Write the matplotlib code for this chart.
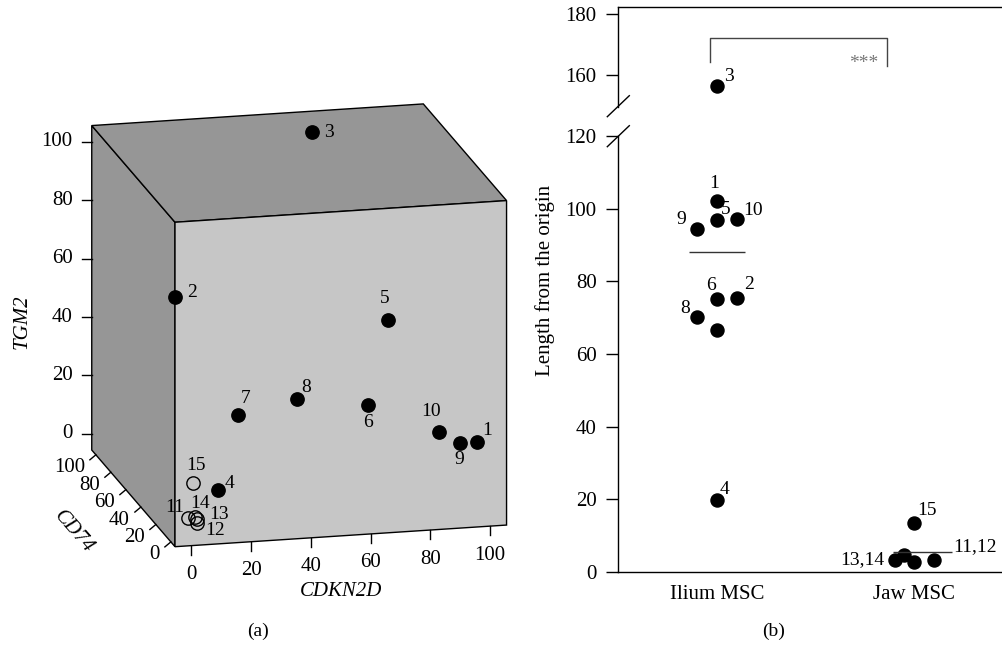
import numpy as np
import matplotlib
matplotlib.use('Agg')
import matplotlib.pyplot as plt
from matplotlib.patches import Polygon

plt.rcParams['font.family'] = ['Liberation Serif', 'DejaVu Serif']

# ---- panel (a): three genes for the 15 MSC samples ----
sample_ids = list(range(1, 16))
cdkn2d = [100, 0, 67, 13.5, 73.5, 65.5, 31, 47.7, 92, 91.4, 0.3, 3.2, 3.1, 3.3, 2.5]
cd74 = [12, 16.4, 100, 12.5, 25.5, 20.5, 55.7, 44, 3, 28, 0, 0, 0, 3, 2]
tgm2 = [17.9, 73, 100, 7.3, 57.6, 30.5, 18.9, 26.7, 21, 17.4, 2.4, 0.3, 1.8, 1.6, 13.5]
is_jaw = [False] * 10 + [True] * 5
axis_ticks = [0, 20, 40, 60, 80, 100]

# ---- panel (b): length from the origin ----
groups = ['Ilium MSC', 'Jaw MSC']
ilium_ids = [1, 2, 3, 4, 5, 6, 7, 8, 9, 10]
ilium_len = [102.1, 75.3, 156.5, 19.8, 96.9, 75.1, 66.6, 70.1, 94.5, 97.2]
ilium_jitter = [0, 0.1, 0, 0, 0, 0, 0, -0.1, -0.1, 0.1]
jaw_ids = [11, 12, 13, 14, 15]
jaw_len = [2.7, 3.3, 3.3, 4.7, 13.4]
jaw_jitter = [0, 0.1, -0.1, -0.05, 0]
group_line = [88.0, 5.6]

W, H = 1003, 646
fig = plt.figure(figsize=(W / 100, H / 100), dpi=100)

# canvas in pixel units for the pseudo-3D panel
ax = fig.add_axes([0, 0, 1, 1])
ax.set_xlim(0, W)
ax.set_ylim(H, 0)
ax.axis('off')
ax.set_zorder(5)
ax.patch.set_visible(False)

lo, hi = -5.5, 105.5
P0 = np.array([175.0, 546.7])
ex = np.array([2.987, -0.195])
ey = np.array([-0.75, -0.871])
ez = np.array([0.0, -2.923])


def proj(x, y, z):
    x, y, z = (np.asarray(v, float) - lo for v in (x, y, z))
    return (P0[0] + x * ex[0] + y * ey[0] + z * ez[0],
            P0[1] + x * ex[1] + y * ey[1] + z * ez[1])


def face(corners, color):
    pts = [proj(*c) for c in corners]
    ax.add_patch(Polygon(pts, closed=True, facecolor=color, edgecolor='black', lw=1.0))


face([(lo, lo, lo), (lo, hi, lo), (lo, hi, hi), (lo, lo, hi)], '#969696')
face([(lo, lo, hi), (hi, lo, hi), (hi, hi, hi), (lo, hi, hi)], '#969696')
face([(lo, lo, lo), (hi, lo, lo), (hi, lo, hi), (lo, lo, hi)], '#c6c6c6')

fs = 15
lfs = 14
for v in axis_ticks:
    sx, sy = proj(v, lo, lo)
    ax.plot([sx, sx], [sy, sy + 9], color='black', lw=1)
    ax.text(sx, sy + 29, str(v), ha='center', va='center', fontsize=fs)
    sx, sy = proj(lo, hi, v)
    ax.plot([sx, sx - 10], [sy, sy], color='black', lw=1)
    ax.text(sx - 19, sy, str(v), ha='right', va='center', fontsize=fs)
    sx, sy = proj(lo, v, lo)
    ax.plot([sx, sx - 6], [sy, sy + 5], color='black', lw=1)
    ax.text(sx - 11, sy + 13, str(v), ha='right', va='center', fontsize=fs)

ax.text(22, 322, 'TGM2', rotation=90, ha='center', va='center', fontsize=fs, style='italic')
ax.text(74, 532, 'CD74', rotation=-49, ha='center', va='center', fontsize=fs, style='italic')
ax.text(341, 591, 'CDKN2D', ha='center', va='center', fontsize=fs, style='italic')

lab_a = {1: (10, -12), 2: (17, -5), 3: (17, 0), 4: (11, -6), 5: (-3, -21), 6: (0, 18),
         7: (7, -16), 8: (9, -12), 9: (-1, 17), 10: (-8, -20), 11: (-13, -10),
         12: (18, 7), 13: (22, -4), 14: (5, -13), 15: (3, -18)}
px = proj(cdkn2d, cd74, tgm2)
for i, sid in enumerate(sample_ids):
    x, y = px[0][i], px[1][i]
    if is_jaw[i]:
        ax.plot(x, y, 'o', ms=9.6, mfc='none', mec='black', mew=1.0)
    else:
        ax.plot(x, y, 'o', ms=9.6, mfc='black', mec='black')
    dx, dy = lab_a[sid]
    ax.annotate(str(sid), (x, y), xytext=(dx * 0.72, -dy * 0.72), textcoords='offset points',
                ha='center', va='center', fontsize=lfs)

# ---- panel (b): broken y axis ----
left, right = 618.3, 1013
axl = fig.add_axes([left / W, (H - 572) / H, (right - left) / W, (572 - 136) / H])
axu = fig.add_axes([left / W, (H - 106.7) / H, (right - left) / W, (106.7 - 7.3) / H])
axl.set_ylim(0, 120)
axu.set_ylim(149.7, 182.3)
for a in (axl, axu):
    a.set_xlim(0.5, 2.5)
    a.spines['right'].set_visible(False)
    for s in a.spines.values():
        s.set_linewidth(1.0)
    a.tick_params(axis='y', direction='out', length=8.5, width=1, labelsize=fs, pad=7)
axl.spines['top'].set_visible(False)
axu.spines['bottom'].set_visible(False)
axl.set_yticks([0, 20, 40, 60, 80, 100, 120])
axu.set_yticks([160, 180])
axu.set_xticks([])
axl.set_xticks([1, 2])
axl.set_xticklabels(groups, fontsize=fs)
axl.tick_params(axis='x', length=0, pad=9.5)

xi = [1 + j for j in ilium_jitter]
xj = [2 + j for j in jaw_jitter]
lab_b = {1: (-3, -18), 2: (12, -14), 3: (12, -9), 4: (8, -11), 5: (9, -10), 6: (-6, -14),
         8: (-12, -9), 9: (-16, -9), 10: (16, -8), 15: (13, -13)}
for a in (axl, axu):
    a.plot(xi, ilium_len, 'o', ms=9.4, color='black', ls='none')
    a.plot(xj, jaw_len, 'o', ms=9.4, color='black', ls='none')
    for sid, x, y in list(zip(ilium_ids, xi, ilium_len)) + list(zip(jaw_ids, xj, jaw_len)):
        if sid in lab_b:
            dx, dy = lab_b[sid]
            a.annotate(str(sid), (x, y), xytext=(dx * 0.72, -dy * 0.72), textcoords='offset points',
                       ha='center', va='center', fontsize=lfs)

axl.annotate('13,14', (xj[2], jaw_len[2]), xytext=(-10 * 0.72, 0), textcoords='offset points',
             ha='right', va='center', fontsize=lfs)
axl.annotate('11,12', (xj[1], jaw_len[1]), xytext=(19 * 0.72, 13 * 0.72), textcoords='offset points',
             ha='left', va='center', fontsize=lfs)

axl.hlines(group_line[0], 0.857, 1.143, color='#333333', lw=1)
axl.hlines(group_line[1], 1.89, 2.19, color='#333333', lw=1)

axu.plot([0.966, 0.966, 1.862, 1.862], [164.5, 172.3, 172.3, 163.0], color='#444444', lw=1)
axu.text(1.745, 164.0, '***', ha='center', va='center', fontsize=14, color='#777777')

fig.text(545 / W, 1 - 280 / H, 'Length from the origin', rotation=90, ha='center', va='center', fontsize=fs)

# break marks
for cy in (136.2, 106.2):
    ax.plot([left - 11, left + 11], [cy + 10.5, cy - 10.5], color='black', lw=1)

fig.text(258.3 / W, 1 - 631.7 / H, '(a)', ha='center', va='center', fontsize=lfs)
fig.text(773.3 / W, 1 - 631.7 / H, '(b)', ha='center', va='center', fontsize=lfs)

fig.savefig('out.png', dpi=100)
